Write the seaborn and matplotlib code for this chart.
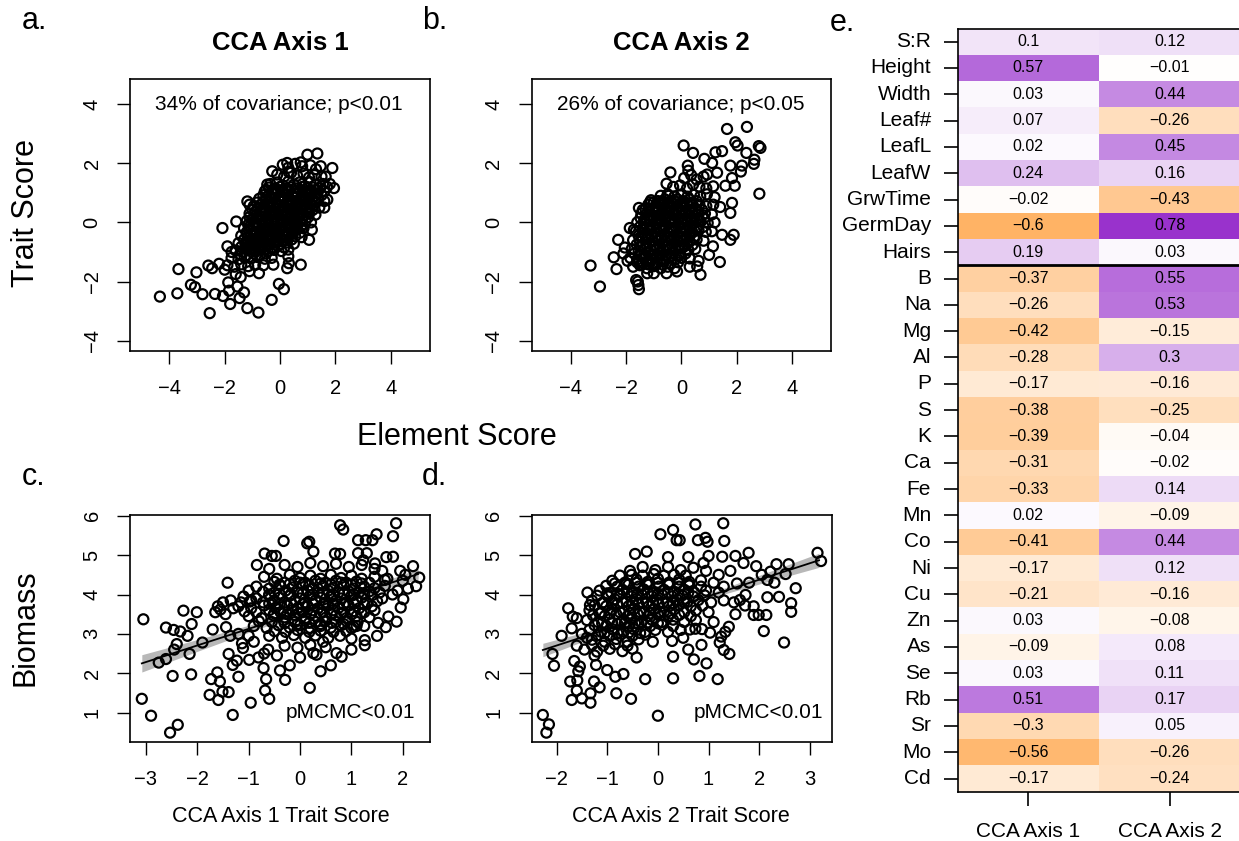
import numpy as np
import pandas as pd
import matplotlib
matplotlib.use('Agg')
import matplotlib.pyplot as plt
import seaborn as sns
from matplotlib.colors import LinearSegmentedColormap

plt.rcParams['font.family'] = ['Liberation Sans', 'DejaVu Sans']

# ---------------- data ----------------
# panel a: Element score (x) vs Trait score (y), CCA axis 1
a_pts = [
    (-4.34,-2.51),(-3.71,-2.40),(-3.67,-1.58),(-3.22,-2.11),(-3.07,-2.19),(-3.02,-1.69),(-2.80,-2.43),
    (-2.54,-3.07),(-2.35,-2.42),(-2.06,-2.49),(-1.80,-2.76),(-1.84,-2.31),(-1.87,-2.03),(-1.54,-2.17),
    (-1.46,-2.56),(-1.30,-2.37),(-1.18,-2.90),(-0.78,-3.05),(-0.30,-2.62),(-0.04,-2.08),(0.14,-2.26),
    (-1.42,-1.85),(-2.59,-1.46),(-2.45,-1.55),(-2.20,-1.40),(-2.08,-0.19),(-1.58,0.03),(-1.90,-0.81),
    (-1.75,-1.00),(-1.18,0.71),(-1.10,0.60),(-0.28,1.73),(-0.46,1.28),(-0.50,1.10),(-0.76,-1.72),
    (-0.24,-1.43),(0.30,-1.15),(0.32,-1.38),(0.75,-1.43),(0.26,-1.55),(1.05,-0.59),(1.15,-0.25),
    (1.89,1.84),(1.95,1.16),(1.35,2.33),(0.99,2.29),(0.75,2.03),(0.26,2.01),(0.32,1.70),(1.47,1.90),
    (1.65,1.55),(1.71,0.77),(1.60,0.50),(1.80,1.30),(-2.00,-1.60),(-1.60,-1.75),(-1.10,-1.65),(-0.60,-1.45),
    (0.10,1.95),(0.30,1.85),(0.55,1.98),(0.80,1.90),(1.10,1.93),(1.30,1.80),
    (-0.10,1.62),(0.15,1.55),(0.40,1.68),(0.62,1.58),(0.85,1.65),(1.05,1.52),(1.25,1.60),(1.50,1.55),
    (-0.35,1.30),(-0.10,1.35),(0.10,1.25),(0.30,1.38),(0.50,1.28),(0.70,1.35),(0.90,1.22),(1.10,1.36),
    (1.30,1.28),(1.55,1.30),(1.70,1.20),
    (-0.55,1.05),(-0.30,1.00),(-0.08,1.10),(0.12,1.02),(0.33,1.08),(0.52,0.98),(0.72,1.10),(0.92,1.00),
    (1.12,1.08),(1.35,0.98),(1.60,1.05),
    (-0.75,0.80),(-0.50,0.75),(-0.28,0.85),(-0.05,0.78),(0.15,0.82),(0.35,0.74),(0.55,0.86),(0.75,0.77),
    (0.95,0.84),(1.15,0.75),(1.38,0.82),(1.60,0.72),
    (-0.95,0.55),(-0.70,0.50),(-0.45,0.60),(-0.25,0.52),(-0.02,0.58),(0.18,0.50),(0.38,0.60),(0.58,0.53),
    (0.78,0.58),(0.98,0.50),(1.20,0.56),(1.42,0.50),
    (-1.10,0.30),(-0.85,0.25),(-0.60,0.33),(-0.38,0.27),(-0.15,0.32),(0.05,0.26),(0.25,0.34),(0.45,0.28),
    (0.65,0.32),(0.85,0.25),(1.05,0.30),(1.28,0.26),
    (-1.20,0.05),(-0.95,0.00),(-0.72,0.08),(-0.50,0.02),(-0.28,0.07),(-0.08,0.00),(0.12,0.06),(0.32,0.00),
    (0.52,0.07),(0.72,0.02),(0.92,0.05),(1.12,0.00),
    (-1.30,-0.20),(-1.05,-0.25),(-0.82,-0.18),(-0.60,-0.24),(-0.38,-0.17),(-0.18,-0.23),(0.02,-0.18),
    (0.22,-0.25),(0.42,-0.19),(0.62,-0.22),(0.85,-0.20),
    (-1.40,-0.45),(-1.15,-0.50),(-0.92,-0.42),(-0.70,-0.48),(-0.48,-0.43),(-0.28,-0.50),(-0.08,-0.44),
    (0.12,-0.48),(0.32,-0.42),(0.55,-0.47),(0.78,-0.50),
    (-1.50,-0.70),(-1.25,-0.75),(-1.02,-0.68),(-0.80,-0.73),(-0.58,-0.68),(-0.38,-0.74),(-0.18,-0.69),
    (0.02,-0.73),(0.25,-0.68),(0.50,-0.72),
    (-1.60,-0.95),(-1.35,-1.00),(-1.12,-0.93),(-0.90,-0.98),(-0.68,-0.92),(-0.45,-0.98),(-0.22,-0.93),
    (0.05,-0.97),(0.30,-0.92),
    (-1.75,-1.20),(-1.50,-1.25),(-1.28,-1.18),(-1.05,-1.22),(-0.82,-1.17),(-0.55,-1.23),(-0.30,-1.20),
    (-1.90,-1.45),(-1.65,-1.50),(-1.40,-1.42),(-1.15,-1.48),(-0.90,-1.44),
    (-0.40,1.18),(-0.20,1.15),(0.00,1.20),(0.20,1.14),(0.40,1.19),(0.60,1.15),(0.80,1.20),(1.00,1.16),
    (1.20,1.18),(1.45,1.15),
    (-0.60,0.92),(-0.40,0.90),(-0.18,0.95),(0.02,0.90),(0.25,0.95),(0.45,0.90),(0.65,0.96),(0.85,0.90),
    (1.05,0.95),(1.25,0.90),(1.50,0.92),
    (-0.85,0.67),(-0.60,0.68),(-0.35,0.70),(-0.12,0.66),(0.08,0.70),(0.28,0.66),(0.48,0.70),(0.68,0.66),
    (0.88,0.70),(1.08,0.66),(1.30,0.70),
    (-1.00,0.42),(-0.72,0.40),(-0.50,0.45),(-0.28,0.40),(-0.05,0.45),(0.15,0.40),(0.35,0.45),(0.55,0.40),
    (0.75,0.45),(0.95,0.40),(1.18,0.42),
    (-1.10,0.18),(-0.82,0.15),(-0.60,0.20),(-0.40,0.15),(-0.18,0.20),(0.02,0.15),(0.22,0.20),(0.42,0.15),
    (0.62,0.20),(0.82,0.15),(1.02,0.18),
    (-1.15,-0.08),(-0.85,-0.10),(-0.62,-0.05),(-0.40,-0.10),(-0.18,-0.05),(0.02,-0.10),(0.22,-0.05),
    (0.42,-0.10),(0.62,-0.05),(0.82,-0.08),
    (-1.20,-0.33),(-0.95,-0.35),(-0.72,-0.30),(-0.50,-0.35),(-0.28,-0.30),(-0.08,-0.35),(0.12,-0.30),
    (0.32,-0.35),(0.52,-0.30),(0.72,-0.35),
    (-1.30,-0.58),(-1.05,-0.60),(-0.82,-0.55),(-0.60,-0.60),(-0.38,-0.55),(-0.18,-0.60),(0.02,-0.55),
    (0.22,-0.60),(0.42,-0.58),
    (-1.40,-0.83),(-1.15,-0.85),(-0.92,-0.80),(-0.70,-0.85),(-0.48,-0.80),(-0.28,-0.85),(-0.08,-0.80),(0.15,-0.85),
    (-1.45,-1.08),(-1.20,-1.10),(-0.95,-1.05),(-0.72,-1.10),(-0.50,-1.05),
    (-0.25,1.10),(0.05,1.08),(0.30,1.12),(0.55,1.06),(0.82,1.08),(1.05,1.05),(1.30,1.10),
    (-0.50,0.85),(-0.20,0.82),(0.05,0.86),(0.30,0.80),(0.52,0.84),(0.80,0.82),(1.05,0.82),(1.28,0.80),
    (-0.70,0.60),(-0.40,0.56),(-0.12,0.60),(0.12,0.56),(0.38,0.55),(0.62,0.60),(0.88,0.56),(1.12,0.60),
    (-0.90,0.35),(-0.62,0.38),(-0.30,0.35),(-0.05,0.38),(0.20,0.30),(0.50,0.36),(0.78,0.30),(1.00,0.35),
    (-1.00,0.10),(-0.70,0.10),(-0.45,0.12),(-0.20,0.10),(0.05,0.12),(0.30,0.10),(0.55,0.12),(0.80,0.10),
    (-1.10,-0.15),(-0.78,-0.15),(-0.52,-0.20),(-0.25,-0.14),(0.00,-0.25),(0.30,-0.15),(0.55,-0.20),(0.75,-0.15),
    (-1.20,-0.40),(-0.85,-0.38),(-0.60,-0.42),(-0.35,-0.40),(-0.12,-0.38),(0.20,-0.40),(0.45,-0.38),
    (-1.20,-0.65),(-0.90,-0.62),(-0.65,-0.65),(-0.40,-0.62),(-0.10,-0.65),(0.15,-0.62),
    (-1.25,-0.90),(-1.00,-0.88),(-0.78,-0.92),(-0.55,-0.90),(-0.30,-0.88),
]

# panel b: Element score (x) vs Trait score (y), CCA axis 2
b_pts = [
    (-3.29,-1.46),(-2.95,-2.17),(-2.35,-1.58),(-2.45,-1.18),(-2.29,-0.59),(-1.87,-0.19),(-1.72,-0.25),
    (-1.54,0.49),(-1.40,0.42),(-1.14,0.68),(-1.58,-2.00),(-1.54,-2.26),(-1.56,-2.12),(-1.64,-1.95),
    (-1.24,-1.72),(-1.00,-1.72),(-0.54,-1.72),(-0.16,-1.66),(0.57,-1.49),(0.69,-1.77),(0.62,-1.30),
    (1.39,-1.34),(1.14,-0.81),(1.77,-0.59),(1.89,-0.42),(1.47,-0.42),(1.77,0.32),(1.83,0.66),(2.82,0.97),
    (2.80,2.58),(2.86,2.52),(2.64,2.12),(2.62,1.98),(2.35,2.35),(1.95,2.71),(2.03,2.60),(1.65,3.16),
    (2.37,3.23),(2.19,1.92),(2.15,1.72),(1.93,1.24),(1.83,1.50),(1.47,2.41),(1.23,2.37),(1.11,2.01),
    (0.83,2.15),(0.42,2.35),(0.08,2.60),(0.23,1.92),(-0.40,1.69),(-0.54,1.31),(-0.46,0.90),(0.93,1.62),
    (1.29,1.68),(1.77,1.92),(1.59,1.24),(-2.05,-0.85),(-1.95,-1.30),(-2.10,-1.05),(1.00,-1.10),(0.30,-1.50),
    (0.10,1.50),(0.35,1.60),(0.55,1.45),(0.80,1.55),(0.25,1.75),
    (-0.30,1.20),(-0.05,1.25),(0.20,1.15),(0.42,1.28),(0.65,1.20),(0.90,1.15),(1.15,1.22),
    (-0.75,0.90),(-0.50,0.95),(-0.25,0.88),(0.00,0.95),(0.22,0.87),(0.45,0.93),(0.68,0.88),(0.92,0.95),(1.20,0.85),
    (-1.20,0.60),(-0.95,0.55),(-0.70,0.63),(-0.48,0.57),(-0.25,0.62),(-0.02,0.55),(0.20,0.63),(0.42,0.57),
    (0.65,0.60),(0.90,0.55),(1.15,0.60),(1.40,0.52),
    (-1.45,0.30),(-1.20,0.25),(-0.98,0.33),(-0.75,0.27),(-0.52,0.32),(-0.30,0.26),(-0.08,0.33),(0.15,0.27),
    (0.38,0.32),(0.60,0.25),(0.85,0.30),(1.10,0.27),
    (-1.60,0.00),(-1.35,-0.05),(-1.12,0.03),(-0.90,-0.03),(-0.68,0.04),(-0.45,-0.02),(-0.22,0.03),(0.00,-0.04),
    (0.22,0.02),(0.45,-0.03),(0.70,0.03),(0.95,-0.02),(1.20,0.00),
    (-1.65,-0.30),(-1.40,-0.35),(-1.18,-0.27),(-0.95,-0.33),(-0.72,-0.28),(-0.50,-0.34),(-0.28,-0.27),
    (-0.05,-0.33),(0.18,-0.28),(0.40,-0.34),(0.62,-0.27),(0.88,-0.32),(1.10,-0.30),
    (-1.75,-0.60),(-1.50,-0.65),(-1.28,-0.57),(-1.05,-0.63),(-0.82,-0.58),(-0.60,-0.64),(-0.38,-0.57),
    (-0.15,-0.63),(0.08,-0.58),(0.30,-0.64),(0.55,-0.58),(0.80,-0.62),
    (-1.80,-0.90),(-1.55,-0.95),(-1.32,-0.88),(-1.10,-0.93),(-0.88,-0.87),(-0.65,-0.94),(-0.42,-0.88),
    (-0.20,-0.93),(0.02,-0.87),(0.25,-0.93),(0.50,-0.90),
    (-1.85,-1.20),(-1.60,-1.25),(-1.35,-1.18),(-1.12,-1.23),(-0.90,-1.17),(-0.68,-1.23),(-0.45,-1.18),
    (-0.22,-1.24),(0.00,-1.20),(0.30,-1.22),
    (-1.75,-1.50),(-1.50,-1.45),(-1.25,-1.55),(-1.00,-1.48),(-0.75,-1.55),(-0.50,-1.50),(-0.25,-1.55),
    (-1.10,0.75),(-0.85,0.72),(-0.60,0.78),(-0.38,0.73),(-0.15,0.78),(0.08,0.72),(0.30,0.77),(0.55,0.72),
    (-1.30,0.45),(-1.05,0.42),(-0.85,0.47),(-0.62,0.42),(-0.40,0.47),(-0.18,0.42),(0.05,0.47),(0.28,0.42),
    (0.50,0.45),(0.75,0.42),
    (-1.48,0.15),(-1.25,0.12),(-1.00,0.17),(-0.78,0.12),(-0.55,0.17),(-0.32,0.12),(-0.10,0.17),(0.12,0.12),
    (0.35,0.16),(0.58,0.12),(0.82,0.15),
    (-1.50,-0.15),(-1.25,-0.18),(-1.02,-0.13),(-0.80,-0.18),(-0.58,-0.13),(-0.35,-0.18),(-0.12,-0.13),
    (0.10,-0.18),(0.32,-0.13),(0.55,-0.17),(0.80,-0.15),
    (-1.55,-0.45),(-1.30,-0.48),(-1.08,-0.43),(-0.85,-0.48),(-0.62,-0.43),(-0.40,-0.48),(-0.18,-0.43),
    (0.05,-0.48),(0.28,-0.43),(0.50,-0.46),
    (-1.62,-0.75),(-1.40,-0.78),(-1.18,-0.72),(-0.95,-0.78),(-0.72,-0.72),(-0.50,-0.78),(-0.28,-0.72),
    (-0.05,-0.78),(0.18,-0.73),(0.40,-0.76),
    (-1.70,-1.05),(-1.45,-1.08),(-1.22,-1.02),(-1.00,-1.08),(-0.78,-1.02),(-0.55,-1.08),(-0.32,-1.02),
    (-0.10,-1.08),(0.15,-1.05),
    (-1.60,-1.35),(-1.38,-1.38),(-1.12,-1.33),(-0.88,-1.38),(-0.62,-1.33),(-0.38,-1.38),(-0.12,-1.35),
    (-1.00,0.68),(-0.72,0.70),(-0.45,0.66),(-0.20,0.70),(0.05,0.66),(0.35,0.66),
    (-1.15,0.38),(-0.92,0.38),(-0.68,0.36),(-0.45,0.38),(-0.20,0.36),(0.05,0.38),(0.30,0.36),(0.60,0.36),
    (-1.35,0.08),(-1.10,0.08),(-0.85,0.06),(-0.60,0.08),(-0.35,0.06),(-0.10,0.08),(0.15,0.06),(0.40,0.08),(0.65,0.06),
    (-1.40,-0.22),(-1.15,-0.20),(-0.90,-0.22),(-0.65,-0.20),(-0.40,-0.22),(-0.18,-0.20),(0.05,-0.22),(0.30,-0.20),(0.55,-0.22),
    (-1.45,-0.52),(-1.20,-0.50),(-0.95,-0.52),(-0.70,-0.50),(-0.48,-0.52),(-0.25,-0.50),(0.00,-0.52),(0.22,-0.50),(0.45,-0.52),
    (-1.50,-0.82),(-1.25,-0.80),(-1.00,-0.82),(-0.78,-0.80),(-0.55,-0.82),(-0.32,-0.80),(-0.10,-0.82),(0.12,-0.80),
    (-1.50,-1.12),(-1.28,-1.12),(-1.05,-1.14),(-0.80,-1.12),(-0.58,-1.14),(-0.35,-1.12),(-0.10,-1.14),
    (-1.45,-1.42),(-1.20,-1.42),(-0.95,-1.44),(-0.70,-1.42),
]

# panel c: CCA axis 1 trait score (x) vs biomass (y)
c_pts = [
    (-3.08,1.35),(-2.90,0.92),(-2.53,0.49),(-2.38,0.69),(-3.05,3.37),(-2.75,2.27),(-2.61,2.36),(-2.61,3.16),
    (-2.46,3.10),(-2.48,1.93),(-2.40,2.74),(-2.45,2.60),(-2.33,3.06),(-2.27,3.59),(-2.19,2.95),(-2.15,2.49),
    (-2.11,3.25),(-2.12,1.97),(-2.01,3.55),(-1.90,2.78),(-1.76,1.45),(-1.73,1.85),(-1.70,3.11),(-1.61,2.02),
    (-1.59,1.32),(-1.56,1.79),(-1.51,1.53),(-1.39,1.52),(-1.41,4.30),(-1.44,3.17),(-1.36,2.95),(-1.39,2.49),
    (-1.31,2.21),(-1.31,0.94),(-1.23,2.32),(-1.20,1.91),(-1.13,2.76),(-1.11,2.64),(-0.96,1.25),(-0.99,2.34),
    (-0.84,4.75),(-0.69,5.04),(-0.55,4.98),(-0.47,4.98),(-0.32,5.36),(-0.29,1.83),(-0.39,2.07),(-0.71,2.13),
    (-0.66,1.85),(-0.60,1.35),(-0.68,1.56),(-0.62,2.60),(-0.81,2.40),(0.19,1.63),(0.18,5.34),(0.26,5.09),
    (0.14,5.30),(0.68,5.04),(0.78,5.03),(0.78,5.76),(0.84,5.65),(1.13,5.38),(1.28,5.38),(1.41,5.38),
    (1.49,5.53),(1.87,5.81),(1.81,5.48),(2.20,4.72),(2.32,4.43),(2.26,4.21),(2.01,3.88),(1.96,3.67),
    (1.88,3.31),(1.67,3.17),(1.52,3.28),(1.72,3.44),(1.26,2.84),(1.26,2.71),(1.04,3.18),(1.10,3.20),
    (0.71,2.51),(0.81,2.42),(0.26,2.51),(0.32,2.47),(0.45,2.80),(1.81,4.96),(1.68,4.95),(1.23,4.87),
    (1.46,4.79),(1.65,4.37),(1.95,4.60),(1.30,5.05),(1.13,5.05),(2.05,4.50),(-1.00,4.10),(-0.95,3.85),
    (-0.60,4.65),(-0.30,4.75),(-0.05,4.70),(0.20,4.80),(0.45,4.72),(0.70,4.78),(0.95,4.70),(1.20,4.75),(1.45,4.65),
    (-0.70,4.45),(-0.45,4.40),(-0.20,4.50),(0.00,4.42),(0.20,4.48),(0.40,4.40),(0.60,4.50),(0.80,4.42),
    (1.00,4.48),(1.20,4.40),(1.45,4.45),(1.70,4.40),(2.00,4.35),
    (-0.85,4.20),(-0.60,4.15),(-0.38,4.22),(-0.15,4.18),(0.05,4.25),(0.25,4.15),(0.45,4.22),(0.65,4.17),
    (0.85,4.24),(1.05,4.15),(1.25,4.20),(1.45,4.16),(1.65,4.22),
    (-1.10,3.95),(-0.85,3.90),(-0.60,3.98),(-0.40,3.92),(-0.20,3.97),(0.00,3.90),(0.20,3.98),(0.40,3.92),
    (0.60,3.96),(0.80,3.90),(1.00,3.97),(1.20,3.92),(1.40,3.98),(1.60,3.90),
    (-1.20,3.70),(-0.95,3.65),(-0.70,3.72),(-0.48,3.66),(-0.25,3.72),(-0.05,3.65),(0.15,3.70),(0.35,3.65),
    (0.55,3.72),(0.75,3.66),(0.95,3.72),(1.15,3.65),(1.40,3.70),
    (-1.00,3.45),(-0.75,3.40),(-0.52,3.47),(-0.30,3.42),(-0.10,3.47),(0.10,3.40),(0.30,3.46),(0.50,3.41),
    (0.70,3.47),(0.90,3.40),(1.10,3.45),(1.35,3.42),
    (-0.90,3.20),(-0.65,3.15),(-0.42,3.22),(-0.20,3.16),(0.00,3.22),(0.20,3.15),(0.40,3.20),(0.60,3.16),
    (0.80,3.22),(1.00,3.15),(1.25,3.20),
    (-0.60,2.95),(-0.35,2.90),(-0.12,2.97),(0.10,2.90),(0.30,2.96),(0.55,2.90),(0.78,2.95),(1.00,2.88),
    (-0.30,2.70),(-0.05,2.65),(0.20,2.72),(0.50,2.66),
    (-1.65,3.55),(-1.60,3.70),(-1.55,3.62),(-1.50,3.80),(-1.45,3.50),(-1.35,3.85),(-1.30,3.65),(-1.15,3.80),
    (-0.50,4.32),(-0.30,4.30),(-0.10,4.35),(0.10,4.30),(0.30,4.35),(0.50,4.30),(0.70,4.35),(0.90,4.30),
    (1.10,4.33),(1.35,4.30),
    (-0.72,4.07),(-0.50,4.05),(-0.28,4.10),(-0.05,4.05),(0.15,4.10),(0.35,4.05),(0.55,4.10),(0.75,4.05),
    (0.95,4.08),(1.15,4.05),(1.35,4.08),(1.55,4.05),
    (-0.98,3.82),(-0.72,3.80),(-0.50,3.85),(-0.30,3.80),(-0.10,3.85),(0.10,3.80),(0.30,3.85),(0.50,3.80),
    (0.70,3.85),(0.90,3.80),(1.10,3.83),(1.30,3.80),(1.50,3.83),
    (-1.08,3.57),(-0.85,3.55),(-0.60,3.60),(-0.38,3.55),(-0.15,3.60),(0.05,3.55),(0.25,3.60),(0.45,3.55),
    (0.65,3.60),(0.85,3.55),(1.05,3.58),(1.25,3.55),
    (-0.80,3.32),(-0.55,3.30),(-0.32,3.35),(-0.10,3.30),(0.10,3.33),(0.30,3.30),(0.50,3.33),(0.70,3.30),
    (0.90,3.33),(1.12,3.30),
    (-0.50,3.07),(-0.28,3.05),(-0.05,3.10),(0.18,3.05),(0.40,3.08),(0.65,3.05),(0.90,3.07),
    (-0.40,4.25),(-0.20,4.27),(0.00,4.30),(0.18,4.23),(0.40,4.28),(0.60,4.25),(0.80,4.30),(1.00,4.25),(1.20,4.28),
    (-0.60,4.00),(-0.40,4.02),(-0.18,4.00),(0.05,4.02),(0.25,4.00),(0.45,4.03),(0.65,4.00),(0.85,4.02),
    (1.05,4.00),(1.25,4.02),
    (-0.60,3.77),(-0.40,3.75),(-0.18,3.78),(0.05,3.75),(0.25,3.77),(0.45,3.75),(0.65,3.77),(0.85,3.75),
    (1.05,3.77),(1.25,3.75),
    (-0.50,3.52),(-0.25,3.50),(-0.02,3.53),(0.20,3.50),(0.40,3.52),(0.60,3.50),(0.80,3.52),(1.00,3.50),(1.20,3.52),
    (-0.30,3.27),(-0.05,3.25),(0.18,3.28),(0.40,3.25),(0.62,3.28),(0.85,3.25),
    (-0.90,2.80),(-0.70,2.50),(-0.45,2.45),(0.00,2.40),(0.60,2.20),(1.00,2.60),(1.50,2.95),(1.45,3.60),
    (1.80,4.00),(2.10,4.15),(-0.20,2.20),(0.40,2.05),(-1.20,3.00),(-1.00,2.95),(1.60,4.60),(1.90,4.10),
]

# panel d: CCA axis 2 trait score (x) vs biomass (y)
d_pts = [
    (-2.27,0.94),(-2.15,0.70),(-2.20,0.49),(-2.08,2.49),(-2.05,2.19),(-1.77,3.65),(-1.68,3.44),(-1.70,3.14),
    (-1.73,1.79),(-1.65,2.31),(-1.54,2.17),(-1.57,2.05),(-1.59,1.82),(-1.70,1.32),(-1.60,1.56),(-1.50,1.36),
    (-1.33,1.25),(-1.33,1.49),(-1.26,1.79),(-1.15,1.64),(-1.22,2.21),(-1.39,4.05),(-1.34,3.73),(-1.00,2.08),
    (-0.84,1.91),(-0.82,1.49),(-0.68,1.98),(-0.53,1.35),(-0.42,2.40),(-0.25,1.85),(0.00,0.92),(-0.45,5.03),
    (-0.22,5.09),(0.05,5.53),(0.30,5.64),(0.37,5.38),(0.43,5.38),(0.74,5.78),(0.79,5.38),(0.94,5.44),
    (0.98,5.34),(1.29,5.81),(1.31,5.36),(1.00,4.98),(1.27,4.96),(1.53,4.98),(1.79,5.06),(1.69,4.80),
    (1.94,4.72),(2.34,4.77),(2.58,4.77),(2.52,4.52),(2.72,4.16),(2.63,3.78),(2.63,3.56),(2.39,3.94),
    (2.16,3.93),(2.14,3.48),(2.09,3.07),(2.49,2.78),(1.89,3.48),(1.99,3.48),(1.89,3.70),(1.72,3.72),
    (1.73,3.99),(1.62,3.86),(1.53,3.50),(1.40,3.18),(1.33,3.05),(1.41,2.49),(1.30,2.59),(1.22,2.78),
    (1.25,2.93),(1.03,3.03),(0.87,3.12),(0.74,3.13),(0.86,2.72),(0.63,3.11),(0.71,2.35),(0.96,2.25),
    (0.82,1.93),(1.18,1.85),(0.30,1.87),(0.30,2.42),(0.28,2.82),(1.56,4.28),(1.43,4.60),(2.22,4.58),
    (2.16,4.37),(3.15,5.06),(3.22,4.85),(2.05,4.50),(1.80,4.30),(2.30,4.30),(1.20,4.50),(-1.90,2.95),
    (-1.60,2.70),(-1.25,2.45),
    (-0.55,4.60),(-0.30,4.70),(-0.05,4.62),(0.20,4.70),(0.45,4.62),(0.70,4.68),(0.95,4.60),
    (-0.90,4.35),(-0.65,4.30),(-0.42,4.38),(-0.20,4.32),(0.00,4.40),(0.22,4.30),(0.42,4.38),(0.62,4.32),
    (0.85,4.36),(1.10,4.30),
    (-1.15,4.10),(-0.92,4.05),(-0.70,4.12),(-0.48,4.06),(-0.28,4.13),(-0.08,4.05),(0.12,4.12),(0.32,4.06),
    (0.52,4.12),(0.72,4.05),(0.95,4.10),(1.20,4.05),
    (-1.30,3.85),(-1.08,3.80),(-0.85,3.88),(-0.62,3.82),(-0.42,3.88),(-0.22,3.80),(-0.02,3.87),(0.18,3.80),
    (0.38,3.87),(0.58,3.81),(0.80,3.86),(1.05,3.80),(1.30,3.85),
    (-1.35,3.60),(-1.12,3.55),(-0.90,3.62),(-0.68,3.56),(-0.48,3.62),(-0.28,3.55),(-0.08,3.62),(0.12,3.56),
    (0.32,3.62),(0.52,3.55),(0.75,3.60),(1.00,3.55),
    (-1.40,3.35),(-1.18,3.30),(-0.95,3.37),(-0.72,3.31),(-0.52,3.37),(-0.32,3.30),(-0.12,3.36),(0.08,3.30),
    (0.30,3.36),(0.52,3.30),(0.75,3.35),
    (-1.35,3.10),(-1.12,3.05),(-0.90,3.12),(-0.68,3.06),(-0.48,3.12),(-0.25,3.05),(-0.05,3.10),(0.20,3.05),(0.45,3.10),
    (-1.30,2.85),(-1.05,2.80),(-0.82,2.87),(-0.60,2.80),(-0.38,2.86),(-0.10,2.80),
    (-1.45,2.60),(-1.20,2.55),(-0.95,2.62),(-0.70,2.56),(-0.50,2.62),
    (-0.75,4.48),(-0.52,4.50),(-0.30,4.48),(-0.08,4.52),(0.12,4.48),(0.32,4.50),(0.55,4.48),
    (-1.02,4.22),(-0.80,4.20),(-0.58,4.25),(-0.38,4.20),(-0.18,4.25),(0.02,4.20),(0.22,4.25),(0.42,4.20),
    (0.62,4.23),(0.85,4.20),
    (-1.20,3.97),(-0.98,3.95),(-0.75,4.00),(-0.52,3.95),(-0.32,4.00),(-0.12,3.95),(0.08,4.00),(0.28,3.95),
    (0.48,3.98),(0.70,3.95),(0.92,3.98),
    (-1.25,3.72),(-1.02,3.70),(-0.80,3.75),(-0.58,3.70),(-0.38,3.75),(-0.18,3.70),(0.02,3.75),(0.22,3.70),
    (0.42,3.73),(0.65,3.70),(0.88,3.72),
    (-1.28,3.47),(-1.05,3.45),(-0.82,3.50),(-0.60,3.45),(-0.40,3.50),(-0.20,3.45),(0.00,3.50),(0.20,3.45),
    (0.42,3.48),(0.65,3.45),
    (-1.25,3.22),(-1.02,3.20),(-0.80,3.25),(-0.58,3.20),(-0.38,3.25),(-0.15,3.20),(0.08,3.23),(0.30,3.20),
    (-1.18,2.97),(-0.95,2.95),(-0.72,3.00),(-0.50,2.95),(-0.25,2.98),
    (-1.30,2.72),(-1.08,2.70),(-0.85,2.74),(-0.60,2.70),
    (-0.85,4.28),(-0.62,4.27),(-0.42,4.30),(-0.22,4.27),(0.00,4.30),(0.20,4.27),(0.40,4.30),(0.60,4.27),
    (-1.00,4.03),(-0.80,4.02),(-0.60,4.05),(-0.40,4.02),(-0.20,4.05),(0.00,4.02),(0.20,4.05),(0.40,4.02),(0.60,4.05),
    (-1.10,3.78),(-0.90,3.78),(-0.70,3.80),(-0.50,3.78),(-0.30,3.80),(-0.10,3.78),(0.10,3.80),(0.30,3.78),(0.52,3.80),
    (-1.15,3.52),(-0.95,3.52),(-0.75,3.55),(-0.55,3.52),(-0.35,3.55),(-0.15,3.52),(0.05,3.55),(0.25,3.52),
    (-1.10,3.27),(-0.90,3.27),(-0.65,3.28),(-0.45,3.27),(-0.22,3.28),(0.00,3.27),
    (-1.05,3.02),(-0.80,3.02),(-0.58,3.03),(-0.35,3.02),
    (-1.60,3.40),(-1.50,3.00),(-1.40,2.90),(0.60,2.60),(0.50,2.90),(1.10,3.30),(1.50,3.80),(1.30,4.20),
    (0.90,4.80),(0.60,4.95),(0.20,4.95),
]

# fitted lines: endpoints and CI half-widths
c_fit_x = [-3.08, 2.30]
c_fit_y = [2.25, 4.52]
c_band_x = [-3.08, -2.0, -1.0, 0.0, 1.0, 2.30]
c_band_hw = [0.22, 0.15, 0.09, 0.05, 0.07, 0.13]
d_fit_x = [-2.27, 3.18]
d_fit_y = [2.59, 4.87]
d_band_x = [-2.27, -1.0, 0.0, 1.0, 2.0, 3.18]
d_band_hw = [0.17, 0.08, 0.05, 0.06, 0.11, 0.18]

# heatmap (panel e)
row_labels = ["S:R","Height","Width","Leaf#","LeafL","LeafW","GrwTime","GermDay","Hairs",
              "B","Na","Mg","Al","P","S","K","Ca","Fe","Mn","Co","Ni","Cu","Zn","As","Se",
              "Rb","Sr","Mo","Cd"]
col_labels = ["CCA Axis 1", "CCA Axis 2"]
axis1_vals = [0.1,0.57,0.03,0.07,0.02,0.24,-0.02,-0.6,0.19,
              -0.37,-0.26,-0.42,-0.28,-0.17,-0.38,-0.39,-0.31,-0.33,0.02,
              -0.41,-0.17,-0.21,0.03,-0.09,0.03,0.51,-0.3,-0.56,-0.17]
axis2_vals = [0.12,-0.01,0.44,-0.26,0.45,0.16,-0.43,0.78,0.03,
              0.55,0.53,-0.15,0.3,-0.16,-0.25,-0.04,-0.02,0.14,-0.09,
              0.44,0.12,-0.16,-0.08,0.08,0.11,0.17,0.05,-0.26,-0.24]

# ---------------- figure ----------------
W, H = 1239, 841
fig = plt.figure(figsize=(W / 100, H / 100), dpi=100)


def rect(l, t, r, b):
    return [l / W, 1 - b / H, (r - l) / W, (b - t) / H]


def ftext(x, y, s, **kw):
    fig.text(x / W, 1 - y / H, s, **kw)


def scatter_panel(ax, pts, xlim, ylim, xticks, yticks):
    df = pd.DataFrame(pts, columns=["x", "y"])
    sns.scatterplot(data=df, x="x", y="y", ax=ax, marker="o", s=52,
                    facecolors="none", edgecolor="black", linewidth=1.6, zorder=3)
    for coll in ax.collections:
        coll.set_facecolor("none")
        coll.set_edgecolor("black")
    ax.set_xlim(*xlim)
    ax.set_ylim(*ylim)
    ax.set_xticks(xticks)
    ax.set_yticks(yticks)
    ax.set_xlabel("")
    ax.set_ylabel("")
    ax.tick_params(direction="out", length=9.5, width=1.0, labelsize=14.5, pad=11)
    ax.tick_params(axis="y", labelrotation=90)
    for lab in ax.get_yticklabels():
        lab.set_va("center")
    for s in ax.spines.values():
        s.set_linewidth(1.2)


def fit_panel(ax, fx, fy, bx, bhw):
    slope = (fy[1] - fy[0]) / (fx[1] - fx[0])
    yb = [fy[0] + slope * (x - fx[0]) for x in bx]
    lo = [y - h for y, h in zip(yb, bhw)]
    hi = [y + h for y, h in zip(yb, bhw)]
    ax.fill_between(bx, lo, hi, color="#B8B8B8", lw=0, zorder=2)
    sns.lineplot(x=fx, y=fy, ax=ax, color="black", lw=1.3, zorder=4)


ax_a = fig.add_axes(rect(130, 79, 430, 351))
scatter_panel(ax_a, a_pts, (-5.42, 5.42), (-4.35, 4.85), [-4, -2, 0, 2, 4], [-4, -2, 0, 2, 4])
ax_a.text(0.496, 4.0, "34% of covariance; p<0.01", transform=ax_a.get_yaxis_transform(),
          ha="center", va="center", fontsize=15)

ax_b = fig.add_axes(rect(531.7, 79, 831.2, 351))
scatter_panel(ax_b, b_pts, (-5.42, 5.42), (-4.35, 4.85), [-4, -2, 0, 2, 4], [-4, -2, 0, 2, 4])
ax_b.text(0.498, 4.0, "26% of covariance; p<0.05", transform=ax_b.get_yaxis_transform(),
          ha="center", va="center", fontsize=15)

ax_c = fig.add_axes(rect(130, 515, 430, 741.7))
scatter_panel(ax_c, c_pts, (-3.31, 2.53), (0.26, 6.02), [-3, -2, -1, 0, 1, 2], [1, 2, 3, 4, 5, 6])
fit_panel(ax_c, c_fit_x, c_fit_y, c_band_x, c_band_hw)
ax_c.text(0.95, 1.0, "pMCMC<0.01", transform=ax_c.get_yaxis_transform(),
          ha="right", va="center", fontsize=15)

ax_d = fig.add_axes(rect(531.7, 515, 831.7, 741.7))
scatter_panel(ax_d, d_pts, (-2.49, 3.43), (0.26, 6.02), [-2, -1, 0, 1, 2, 3], [1, 2, 3, 4, 5, 6])
fit_panel(ax_d, d_fit_x, d_fit_y, d_band_x, d_band_hw)
ax_d.text(0.971, 1.0, "pMCMC<0.01", transform=ax_d.get_yaxis_transform(),
          ha="right", va="center", fontsize=15)

# heatmap
ax_e = fig.add_axes(rect(957.5, 28.5, 1240.5, 791.7))
hm = pd.DataFrame({col_labels[0]: axis1_vals, col_labels[1]: axis2_vals}, index=row_labels)
annot = hm.apply(lambda col: col.map(lambda v: "{:g}".format(v).replace("-", "\u2212")))
cmap = LinearSegmentedColormap.from_list("or_pu", ["#FF9C38", "#FFFFFF", "#9932CC"])
sns.heatmap(hm, ax=ax_e, cmap=cmap, vmin=-0.78, vmax=0.78, annot=annot.values, fmt="",
            cbar=False, annot_kws={"fontsize": 11.5, "color": "black"})
ax_e.axhline(9, color="black", lw=2.0)
for s in ax_e.spines.values():
    s.set_visible(True)
    s.set_linewidth(1.2)
    s.set_color("black")
ax_e.tick_params(axis="y", left=True, length=10, width=1.2, pad=9, labelsize=15)
ax_e.tick_params(axis="x", bottom=True, length=10, width=1.2, pad=12, labelsize=15)
ax_e.set_yticklabels(row_labels, rotation=0, va="center")
ax_e.set_xticklabels(col_labels, rotation=0)
ax_e.set_xlabel("")
ax_e.set_ylabel("")

# titles, axis labels, panel letters
ftext(280, 43, "CCA Axis 1", ha="center", va="center", fontsize=18.5, fontweight="bold")
ftext(681, 43, "CCA Axis 2", ha="center", va="center", fontsize=18.5, fontweight="bold")
ftext(26, 213, "Trait Score", ha="center", va="center", rotation=90, fontsize=22)
ftext(457, 437, "Element Score", ha="center", va="center", fontsize=22)
ftext(26, 628, "Biomass", ha="center", va="center", rotation=90, fontsize=22)
ftext(280.5, 817, "CCA Axis 1 Trait Score", ha="center", va="center", fontsize=15.5)
ftext(681, 817, "CCA Axis 2 Trait Score", ha="center", va="center", fontsize=15.5)
ftext(22, 29, "a.", ha="left", va="baseline", fontsize=22)
ftext(422, 29, "b.", ha="left", va="baseline", fontsize=22)
ftext(22, 485, "c.", ha="left", va="baseline", fontsize=22)
ftext(422, 485, "d.", ha="left", va="baseline", fontsize=22)
ftext(830, 31, "e.", ha="left", va="baseline", fontsize=22)

fig.savefig("out.png", dpi=100)
